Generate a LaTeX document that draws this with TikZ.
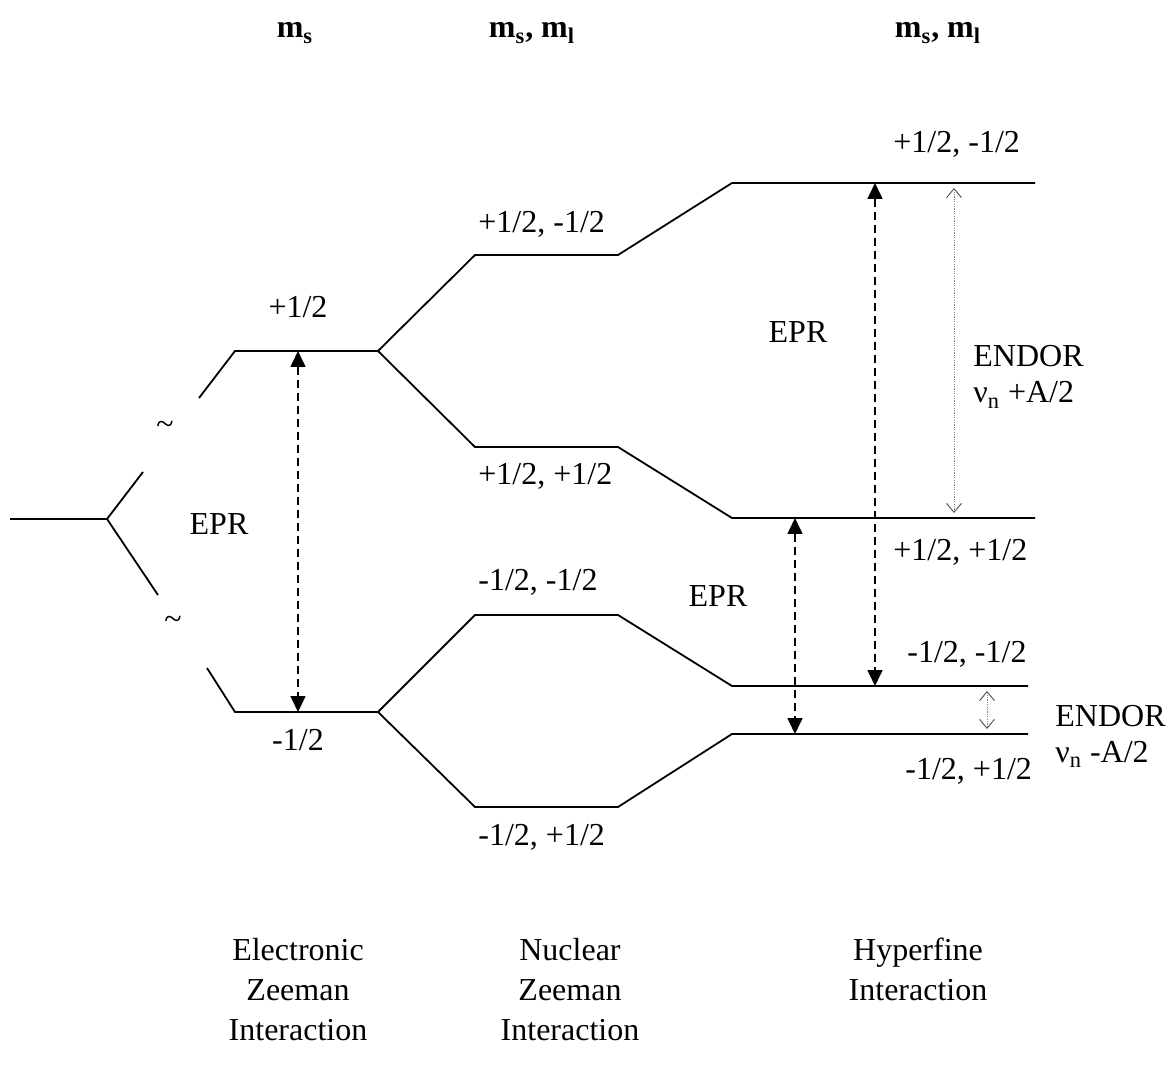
\documentclass[tikz,border=0pt]{standalone}
\usepackage{fontspec}
\setmainfont{Liberation Serif}
\usetikzlibrary{arrows.meta}
\tikzset{
  level/.style={line width=0.9pt,black,line join=miter},
  epr/.style={{Triangle[length=8pt,width=7.5pt]}-{Triangle[length=8pt,width=7.5pt]},line width=0.8pt,dash pattern=on 4pt off 2.5pt},
  endor/.style={{Straight Barb[length=4.5pt,width=7.5pt,line width=0.45pt,black!70]}-{Straight Barb[length=4.5pt,width=7.5pt,line width=0.45pt,black!70]},line width=0.4pt,gray,dash pattern=on 0.6pt off 0.6pt,shorten <=2.5pt,shorten >=2.5pt},
  lbl/.style={font=\fontsize{16}{19}\selectfont,inner sep=0pt},
  head/.style={font=\fontsize{16}{19}\selectfont\bfseries,inner sep=0pt},
}

\begin{document}
\begin{tikzpicture}[x=0.5pt,y=-0.5pt]
  \useasboundingbox (0,0) rectangle (1168,1069);
  % ── level end points ──
  \coordinate (z0) at (10,519);  \coordinate (zv) at (107,519);
  \coordinate (zu) at (143,472); \coordinate (zd) at (158,595);
  \coordinate (au) at (199,398); \coordinate (a1) at (235,351); \coordinate (a2) at (378,351);
  \coordinate (ad) at (207,668); \coordinate (b1) at (235,712); \coordinate (b2) at (378,712);
  \coordinate (c1) at (475,255); \coordinate (c2) at (618,255);
  \coordinate (d1) at (475,447); \coordinate (d2) at (618,447);
  \coordinate (e1) at (475,615); \coordinate (e2) at (618,615);
  \coordinate (f1) at (475,807); \coordinate (f2) at (618,807);
  \coordinate (g1) at (732,183); \coordinate (g2) at (1035,183);
  \coordinate (h1) at (732,518); \coordinate (h2) at (1035,518);
  \coordinate (i1) at (732,686); \coordinate (i2) at (1028,686);
  \coordinate (j1) at (732,734); \coordinate (j2) at (1028,734);

  % ── levels ──
  \draw[level] (z0) -- (zv) -- (zu);
  \draw[level] (zv) -- (zd);
  \draw[level] (au) -- (a1) -- (a2);
  \draw[level] (ad) -- (b1) -- (b2);
  \draw[level] (a2) -- (c1) -- (c2) -- (g1) -- (g2);
  \draw[level] (a2) -- (d1) -- (d2) -- (h1) -- (h2);
  \draw[level] (b2) -- (e1) -- (e2) -- (i1) -- (i2);
  \draw[level] (b2) -- (f1) -- (f2) -- (j1) -- (j2);
  \node[lbl] (tu) at (165,428) {\textasciitilde};
  \node[lbl] (td) at (173,623) {\textasciitilde};

  % ── transitions ──
  \coordinate (ea) at (298,351); \coordinate (eb) at (298,712);
  \coordinate (ha) at (875,183); \coordinate (hb) at (875,686);
  \coordinate (ka) at (795,518); \coordinate (kb) at (795,734);
  \coordinate (na) at (954,183); \coordinate (nb) at (954,518);
  \coordinate (ma) at (987,686); \coordinate (mb) at (987,734);
  \draw[epr] (ea) -- (eb);
  \draw[epr] (ha) -- (hb);
  \draw[epr] (ka) -- (kb);
  \draw[endor] (na) -- (nb);
  \draw[endor] (ma) -- (mb);

  % ── labels ──
  \node[head, anchor=base] (hs) at (295,38) {m\textsubscript{s}};
  \node[head, anchor=base] (hsl) at (532,38) {m\textsubscript{s}, m\textsubscript{l}};
  \node[head, anchor=base] (hhf) at (938,38) {m\textsubscript{s}, m\textsubscript{l}};

  \node[lbl, anchor=base] (lp) at (298,318) {+1/2};
  \node[lbl, anchor=base] (lm) at (298,750) {-1/2};
  \node[lbl, anchor=base] (epr1) at (219,535) {EPR};

  \node[lbl, anchor=base west] (nz1) at (478,233) {+1/2, -1/2};
  \node[lbl, anchor=base west] (nz2) at (478,485) {+1/2, +1/2};
  \node[lbl, anchor=base west] (nz3) at (478,590) {-1/2, -1/2};
  \node[lbl, anchor=base west] (nz4) at (478,845) {-1/2, +1/2};

  \node[lbl, anchor=base west] (hf1) at (893,153) {+1/2, -1/2};
  \node[lbl, anchor=base west] (hf2) at (893,560) {+1/2, +1/2};
  \node[lbl, anchor=base west] (hf3) at (907,662) {-1/2, -1/2};
  \node[lbl, anchor=base west] (hf4) at (905,779) {-1/2, +1/2};

  \node[lbl, anchor=base] (epr2) at (798,343) {EPR};
  \node[lbl, anchor=base] (epr3) at (718,607) {EPR};
  \node[lbl, anchor=base west] (en1) at (973,367) {ENDOR};
  \node[lbl, anchor=base west] (en1f) at (973,403) {ν\textsubscript{n} +A/2};
  \node[lbl, anchor=base west] (en2) at (1055,726) {ENDOR};
  \node[lbl, anchor=base west] (en2f) at (1055,762) {ν\textsubscript{n} -A/2};

  \node[lbl, align=center, font=\fontsize{16}{20}\selectfont, anchor=north] (cez) at (298,938) {Electronic\\Zeeman\\Interaction};
  \node[lbl, align=center, font=\fontsize{16}{20}\selectfont, anchor=north] (cnz) at (570,938) {Nuclear\\Zeeman\\Interaction};
  \node[lbl, align=center, font=\fontsize{16}{20}\selectfont, anchor=north] (chf) at (918,938) {Hyperfine\\Interaction};
\end{tikzpicture}
\end{document}
